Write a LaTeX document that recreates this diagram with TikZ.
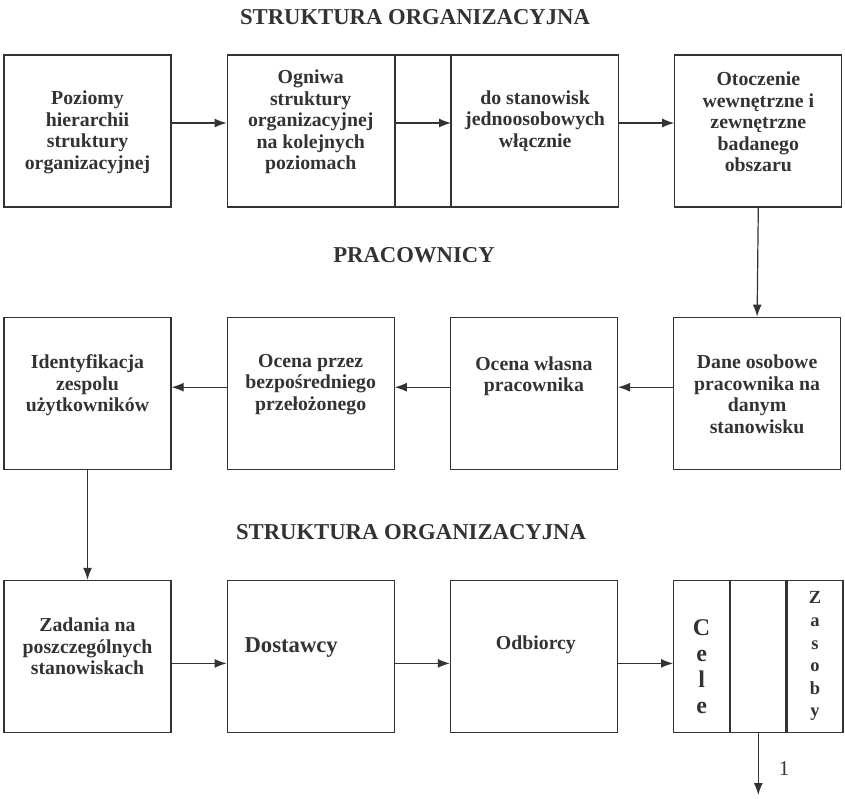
\documentclass[tikz,border=0pt]{standalone}
\usepackage{fontspec}
\setmainfont{Liberation Serif}
\usetikzlibrary{arrows.meta,positioning}
\definecolor{scanline}{HTML}{333333}
\tikzset{
  box/.style={draw=scanline,line width=1.2pt,minimum width=167pt,minimum height=152pt,inner sep=0pt},
  slim/.style={draw=scanline,line width=1.2pt,minimum width=55pt,minimum height=152pt,inner sep=0pt},
  txt/.style={align=center,font=\fontsize{19.8}{21.5}\selectfont\bfseries,inner sep=0pt,text=scanline},
  heading/.style={font=\fontsize{22.7}{26}\selectfont\bfseries,inner sep=0pt,text=scanline},
  flow/.style={-{Latex[length=12pt,width=9pt]},line width=1.2pt,draw=scanline},
}

\begin{document}
\begin{tikzpicture}[x=1pt,y=-1pt,node distance=55pt]
    \useasboundingbox (0,0) rectangle (845,798);
    \node[heading] (tyt1) at (415,17.5) {STRUKTURA ORGANIZACYJNA};
    \node[heading] (tyt2) at (414,255) {PRACOWNICY};
    \node[heading] (tyt3) at (411,532) {STRUKTURA ORGANIZACYJNA};

    \node[box] (pozi) at (87.5,131) {};
    \node[box,right=of pozi] (ogn) {};
    \node[slim,right=0pt of ogn] (gap1) {};
    \node[box,right=0pt of gap1] (stan) {};
    \node[box,right=of stan] (otocz) {};

    \node[box,below=109pt of pozi] (ident) {};
    \node[box,right=of ident] (przez) {};
    \node[box,right=of przez] (wlasna) {};
    \node[box,right=of wlasna] (dane) {};

    \node[box,below=110pt of ident] (zad) {};
    \node[box,right=of zad] (dost) {};
    \node[box,right=of dost] (odb) {};
    \node[slim,minimum width=56pt,right=of odb] (cele) {};
    \node[slim,right=0pt of cele] (mid3) {};
    \node[slim,minimum width=56pt,right=0pt of mid3] (zas) {};

    \node[txt] (t-pozi) at ([yshift=-1.5pt]pozi.center) {Poziomy\\hierarchii\\struktury\\organizacyjnej};
    \node[txt] (t-ogn) at ([yshift=9pt]ogn.center) {Ogniwa\\struktury\\organizacyjnej\\na kolejnych\\poziomach};
    \node[txt] (t-stan) at ([yshift=10pt]stan.center) {do stanowisk\\jednoosobowych\\włącznie};
    \node[txt] (t-otocz) at ([yshift=9pt]otocz.center) {Otoczenie\\wewnętrzne i\\zewnętrzne\\badanego\\obszaru};

    \node[txt] (t-ident) at ([yshift=8pt]ident.center) {Identyfikacja\\zespolu\\użytkowników};
    \node[txt] (t-przez) at ([yshift=9pt]przez.center) {Ocena przez\\bezpośredniego\\przełożonego};
    \node[txt] (t-wlasna) at ([yshift=17pt]wlasna.center) {Ocena własna\\pracownika};
    \node[txt] (t-dane) at ([yshift=-1pt]dane.center) {Dane osobowe\\pracownika na\\danym\\stanowisku};

    \node[txt] (t-zad) at ([yshift=10pt]zad.center) {Zadania na\\poszczególnych\\stanowiskach};
    \node[txt,font=\fontsize{22.7}{26}\selectfont\bfseries] (t-dost) at ([xshift=-19.5pt,yshift=9pt]dost.center) {Dostawcy};
    \node[txt] (t-odb) at ([xshift=2pt,yshift=12pt]odb.center) {Odbiorcy};
    \node[txt,font=\fontsize{24}{26}\selectfont\bfseries] (t-cele) at ([yshift=-10pt]cele.center) {C\\e\\l\\e};
    \node[txt,font=\fontsize{18.5}{22.6}\selectfont\bfseries] (t-zas) at (zas.center) {Z\\a\\s\\o\\b\\y};

    \draw[flow] ([yshift=8pt]pozi.east) -- ([yshift=8pt]ogn.west);
    \draw[flow] ([yshift=8pt]ogn.east) -- ([yshift=8pt]stan.west);
    \draw[flow] ([yshift=8pt]stan.east) -- ([yshift=8pt]otocz.west);
    \draw[flow] (otocz.south) -- (dane.north);

    \draw[flow] ([yshift=6pt]dane.west) -- ([yshift=6pt]wlasna.east);
    \draw[flow] ([yshift=6pt]wlasna.west) -- ([yshift=6pt]przez.east);
    \draw[flow] ([yshift=6pt]przez.west) -- ([yshift=6pt]ident.east);
    \draw[flow] (ident.south) -- (zad.north);

    \draw[flow] ([yshift=-7pt]zad.east) -- ([yshift=-7pt]dost.west);
    \draw[flow] ([yshift=-7pt]dost.east) -- ([yshift=-7pt]odb.west);
    \draw[flow] ([yshift=-7pt]odb.east) -- ([yshift=-7pt]cele.west);

    \coordinate[below=62pt of mid3.south] (koniec);
    \draw[flow] (mid3.south) -- (koniec);
    \node[font=\fontsize{21}{24}\selectfont,text=scanline] (jeden) at (784,769) {1};
  \end{tikzpicture}
\end{document}
